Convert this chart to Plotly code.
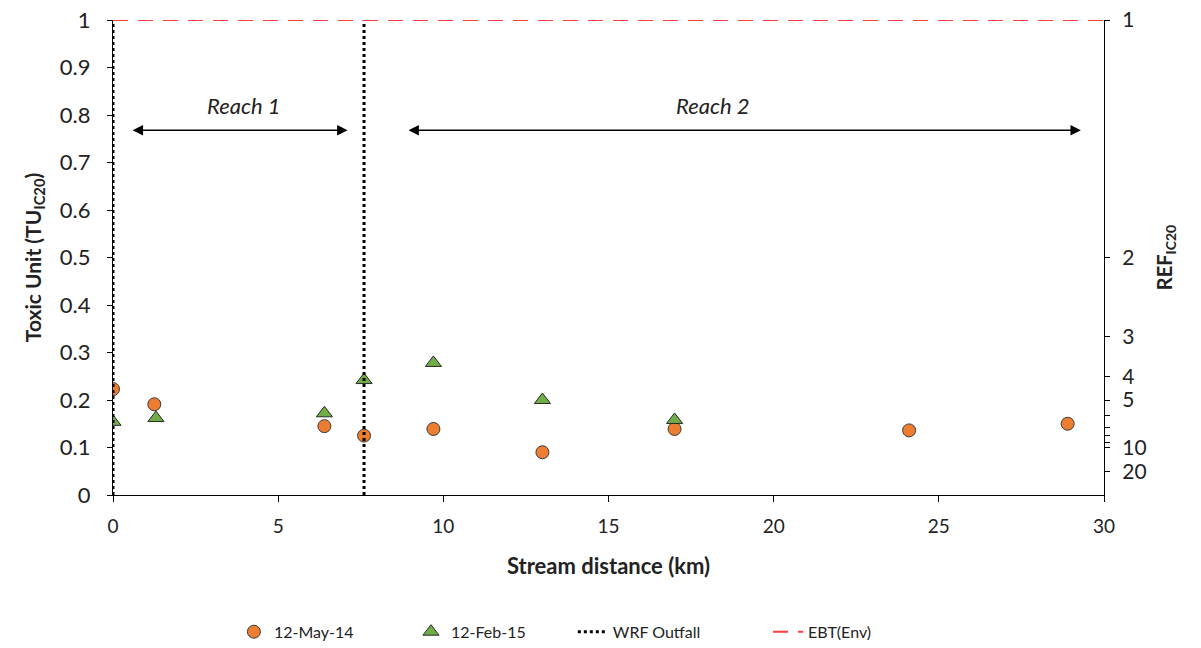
import plotly.graph_objects as go

# ---- data ----
may_km = [0, 1.25, 6.4, 7.6, 9.7, 13.0, 17.0, 24.1, 28.9]
may_tu = [0.223, 0.191, 0.145, 0.125, 0.139, 0.090, 0.139, 0.136, 0.150]
feb_km = [0, 1.3, 6.4, 7.6, 9.7, 13.0, 17.0]
feb_tu = [0.154, 0.162, 0.172, 0.242, 0.278, 0.200, 0.158]
outfall_km = [0, 7.6]
ebt_tu = 1.0
ref_ticks = [1, 2, 3, 4, 5, 6, 7, 8, 9, 10, 20]
ref_labels = ["1", "2", "3", "4", "5", "", "", "", "", "10", "20"]
x_ticks = [0, 5, 10, 15, 20, 25, 30]
y_ticks = [0, 0.1, 0.2, 0.3, 0.4, 0.5, 0.6, 0.7, 0.8, 0.9, 1]
reach1 = (0.55, 7.1, 3.95, "Reach 1")
reach2 = (8.9, 29.3, 18.15, "Reach 2")
reach_y = 0.768

FONT = "Lato"
TXT = "#222"
fig = go.Figure()

fig.add_trace(go.Scatter(
    x=may_km, y=may_tu, mode="markers", name="12-May-14", legend="legend",
    marker=dict(symbol="circle", size=13, color="#ED7D31",
                line=dict(color="#3a3a3a", width=1))))
fig.add_trace(go.Scatter(
    x=feb_km, y=feb_tu, mode="markers", name="12-Feb-15", legend="legend2",
    marker=dict(symbol="triangle-up", size=14, color="#70AD47",
                line=dict(color="#2a2a2a", width=1))))

ox, oy = [], []
for k in outfall_km:
    ox += [k, k, None]
    oy += [0, 1, None]
fig.add_trace(go.Scatter(
    x=ox, y=oy, mode="lines", name="WRF Outfall", legend="legend3",
    line=dict(color="black", width=3, dash="dot")))
fig.add_trace(go.Scatter(
    x=[0, 30], y=[ebt_tu, ebt_tu], mode="lines", name="EBT(Env)", legend="legend4",
    line=dict(color="#FF3B3B", width=2, dash="15px,10px")))

# invisible trace for right axis
fig.add_trace(go.Scatter(x=[0], y=[0], yaxis="y2", mode="markers",
                         marker=dict(opacity=0), showlegend=False,
                         hoverinfo="skip"))

for (a, b, cx, label) in [reach1, reach2]:
    fig.add_annotation(x=b, y=reach_y, ax=a, ay=reach_y, xref="x", yref="y",
                       axref="x", ayref="y", showarrow=True,
                       arrowhead=2, startarrowhead=2, arrowside="end+start",
                       arrowsize=1.3, arrowwidth=1.6, arrowcolor="black", text="")
    fig.add_annotation(x=cx, y=0.82, xref="x", yref="y", showarrow=False,
                       text="<i>" + label + "</i>",
                       font=dict(family=FONT, size=22, color=TXT))

def leg(xp):
    return dict(orientation="h", x=xp, xanchor="left", y=-0.288,
                yanchor="middle", bgcolor="rgba(0,0,0,0)",
                font=dict(family=FONT, size=16, color=TXT))

fig.update_layout(
    width=1201, height=648,
    margin=dict(l=113, r=97, t=20, b=153, autoexpand=False),
    paper_bgcolor="white", plot_bgcolor="white",
    font=dict(family=FONT, color=TXT),
    showlegend=True,
    legend=leg(0.122), legend2=leg(0.3007), legend3=leg(0.464), legend4=leg(0.661),
    xaxis=dict(range=[0, 30], tickvals=x_ticks, showgrid=False, zeroline=False,
               showline=True, linecolor="black", linewidth=1.2,
               ticks="outside", ticklen=6, tickcolor="black",
               ticklabelstandoff=8,
               tickfont=dict(family=FONT, size=19, color=TXT),
               title=dict(text="<b>Stream distance (km)</b>", standoff=22,
                          font=dict(family=FONT, size=22, color=TXT))),
    yaxis=dict(range=[0, 1], tickvals=y_ticks, showgrid=False, zeroline=False,
               showline=True, linecolor="black", linewidth=1.2,
               ticks="outside", ticklen=5, tickcolor="black",
               ticklabelstandoff=12,
               tickfont=dict(family=FONT, size=22, color=TXT),
               title=dict(text="<b>Toxic Unit (TU<sub>IC20</sub>)</b>", standoff=12,
                          font=dict(family=FONT, size=21, color=TXT))),
    yaxis2=dict(range=[0, 1], overlaying="y", side="right",
                tickvals=[1 / r for r in ref_ticks], ticktext=ref_labels,
                showgrid=False, zeroline=False, showline=True,
                linecolor="black", linewidth=1.2, ticks="outside", ticklen=5,
                tickcolor="black", ticklabelstandoff=8,
                tickfont=dict(family=FONT, size=21, color=TXT),
                title=dict(text="<b>REF<sub>IC20</sub></b>", standoff=12,
                           font=dict(family=FONT, size=20, color=TXT))),
)

fig.write_html("out.html")
